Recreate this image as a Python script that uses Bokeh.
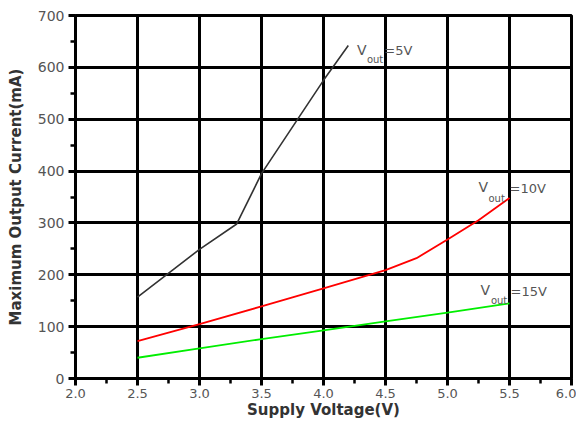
from bokeh.plotting import figure
from bokeh.models import SingleIntervalTicker, NumeralTickFormatter, Range1d, Label
from bokeh.embed import file_html
from bokeh.resources import INLINE

# Data
v5_x = [2.5, 3.0, 3.3, 3.5, 3.8, 4.0, 4.2]
v5_y = [157, 249, 298, 395, 503, 575, 642]

v10_x = [2.5, 3.0, 3.5, 4.0, 4.5, 4.75, 5.0, 5.25, 5.5]
v10_y = [72, 105, 139, 174, 209, 232, 268, 305, 348]

v15_x = [2.5, 3.0, 3.5, 4.0, 4.5, 5.0, 5.5]
v15_y = [40, 58, 76, 93, 110, 127, 145]

# annotation texts: (main, subscript, rest)
labels = [("V", "out", "=5V"), ("V", "out", "=10V"), ("V", "out", "=15V")]
label_pos = [  # (x_V, y_V, x_sub, y_sub, x_rest, y_rest)
    (4.27, 634, 4.35, 616, 4.49, 632),
    (5.25, 369, 5.33, 348, 5.50, 367),
    (5.266, 170, 5.35, 150, 5.508, 168),
]

FONT = "DejaVu Sans"

p = figure(output_backend="svg", toolbar_location=None,
           x_range=Range1d(2.0, 6.0), y_range=Range1d(0, 700),
           min_border_left=75, min_border_right=5, min_border_top=15, min_border_bottom=42)
p.frame_width = 496
p.frame_height = 363

p.line(v5_x, v5_y, line_color="#333333", line_width=1.6)
p.line(v10_x, v10_y, line_color="#ff0000", line_width=1.8)
p.line(v15_x, v15_y, line_color="#00ee00", line_width=1.8)

p.xaxis.ticker = SingleIntervalTicker(interval=0.5, num_minor_ticks=2)
p.yaxis.ticker = SingleIntervalTicker(interval=100, num_minor_ticks=2)
p.xaxis.formatter = NumeralTickFormatter(format="0.0")

for ax in (p.xaxis[0], p.yaxis[0]):
    ax.axis_line_color = "black"
    ax.axis_line_width = 3
    ax.major_tick_line_color = "black"
    ax.major_tick_line_width = 3
    ax.minor_tick_line_color = "black"
    ax.minor_tick_line_width = 2.5
    ax.major_tick_out = 7
    ax.major_tick_in = 0
    ax.minor_tick_out = 5
    ax.minor_tick_in = 0
    ax.major_label_text_font = FONT
    ax.major_label_text_font_size = "13px"
    ax.major_label_text_color = "#555555"
    ax.axis_label_text_font = FONT
    ax.axis_label_text_font_size = "15px"
    ax.axis_label_text_font_style = "bold"
    ax.axis_label_text_color = "#333333"

p.yaxis.major_label_text_font_size = "14px"
p.xaxis.axis_label = "Supply Voltage(V)"
p.yaxis.axis_label = "Maximum Output Current(mA)"
p.xaxis.major_label_standoff = 3
p.xaxis.axis_label_standoff = 0
p.yaxis.major_label_standoff = 4
p.yaxis.axis_label_standoff = 10

p.xgrid.grid_line_color = "black"
p.xgrid.grid_line_width = 3
p.xgrid.grid_line_alpha = 1
p.ygrid.grid_line_color = "black"
p.ygrid.grid_line_width = 3
p.ygrid.grid_line_alpha = 1

p.outline_line_color = "black"
p.outline_line_width = 3
p.outline_line_alpha = 1

for (main, sub, rest), (xv, yv, xs, ys, xr, yr) in zip(labels, label_pos):
    p.add_layout(Label(x=xv, y=yv, text=main, text_font=FONT, text_font_size="14px",
                       text_color="#555555", text_baseline="alphabetic"))
    p.add_layout(Label(x=xs, y=ys, text=sub, text_font=FONT, text_font_size="10px",
                       text_color="#555555", text_baseline="alphabetic"))
    p.add_layout(Label(x=xr, y=yr, text=rest, text_font=FONT, text_font_size="13px",
                       text_color="#555555", text_baseline="alphabetic"))

open("out.html", "w").write(file_html(p, INLINE))
